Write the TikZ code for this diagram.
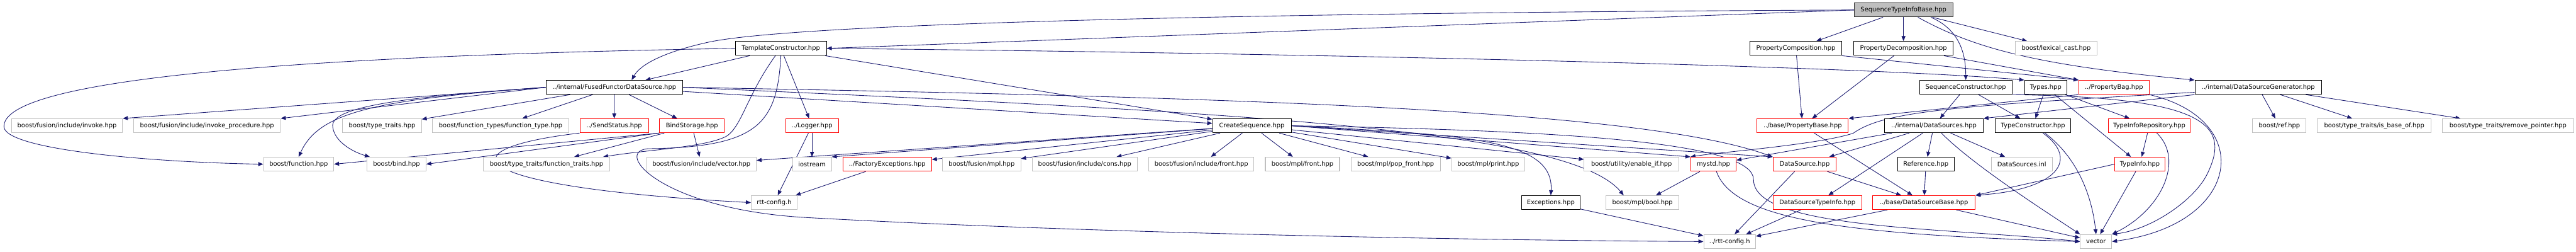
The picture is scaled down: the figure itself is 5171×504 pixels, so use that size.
\documentclass[tikz,border=0pt]{standalone}
\usepackage{fontspec}
\setmainfont{DejaVu Sans}
\usepackage{xcolor}
\usetikzlibrary{arrows.meta,backgrounds}
\definecolor{edgeblue}{HTML}{191970}
\definecolor{lightgrey}{HTML}{BFBFBF}

\begin{document}
\begin{tikzpicture}[
  x=1pt, y=-1pt,
  box/.style={draw, rectangle, fill=white, minimum height=28pt, inner sep=0pt, line width=1.3pt, font=\fontsize{12.5}{15}\selectfont},
  wd/.style={minimum width=#1pt},
  doc/.style={box, draw=black},
  ext/.style={box, draw=lightgrey},
  trunc/.style={box, draw=red},
  main/.style={box, draw=black!80, fill=lightgrey},
  arr/.style={-{Triangle[length=10pt,width=8pt]}, edgeblue, line width=1.1pt}
]
\useasboundingbox (0,0) rectangle (5171,504);

\node[main, wd=198] (stib) at (3821,20) {SequenceTypeInfoBase.hpp};

\node[doc, wd=183] (tc) at (1567.5,97) {TemplateConstructor.hpp};
\node[doc, wd=184] (pc) at (3605,97) {PropertyComposition.hpp};
\node[doc, wd=200] (pd) at (3821,97) {PropertyDecomposition.hpp};
\node[ext, wd=163] (lexc) at (4127.5,97) {boost/lexical\_cast.hpp};

\node[doc, wd=274] (ffds) at (1233,175) {../internal/FusedFunctorDataSource.hpp};
\node[doc, wd=186] (sc) at (3946,175) {SequenceConstructor.hpp};
\node[doc, wd=85] (types) at (4106.5,175) {Types.hpp};
\node[trunc, wd=141] (pbag) at (4243.5,175) {../PropertyBag.hpp};
\node[doc, wd=254] (dsg) at (4533,175) {../internal/DataSourceGenerator.hpp};

\node[ext, wd=223] (invoke) at (134.5,252) {boost/fusion/include/invoke.hpp};
\node[ext, wd=295] (invproc) at (415.5,252) {boost/fusion/include/invoke\_procedure.hpp};
\node[ext, wd=158] (typetr) at (767,252) {boost/type\_traits.hpp};
\node[ext, wd=274] (functype) at (1005,252) {boost/function\_types/function\_type.hpp};
\node[trunc, wd=138] (sendst) at (1233,252) {../SendStatus.hpp};
\node[trunc, wd=130] (bindst) at (1389,252) {BindStorage.hpp};
\node[trunc, wd=106] (logger) at (1630,252) {../Logger.hpp};
\node[doc, wd=158] (cseq) at (2513,252) {CreateSequence.hpp};
\node[trunc, wd=183] (pbase) at (3618.5,252) {../base/PropertyBase.hpp};
\node[doc, wd=198] (dss) at (3882,252) {../internal/DataSources.hpp};
\node[doc, wd=152] (tcons) at (4081,252) {TypeConstructor.hpp};
\node[trunc, wd=165] (tirepo) at (4314.5,252) {TypeInfoRepository.hpp};
\node[ext, wd=107] (bref) at (4575.5,252) {boost/ref.hpp};
\node[ext, wd=228] (isbase) at (4766,252) {boost/type\_traits/is\_base\_of.hpp};
\node[ext, wd=263] (rmptr) at (5034.5,252) {boost/type\_traits/remove\_pointer.hpp};

\node[ext, wd=141] (func) at (599.5,329) {boost/function.hpp};
\node[ext, wd=118] (bind) at (796,329) {boost/bind.hpp};
\node[ext, wd=254] (functr) at (1097,329) {boost/type\_traits/function\_traits.hpp};
\node[ext, wd=220] (fvec) at (1408,329) {boost/fusion/include/vector.hpp};
\node[ext, wd=78] (iostr) at (1630,329) {iostream};
\node[trunc, wd=178] (factexc) at (1781,329) {../FactoryExceptions.hpp};
\node[ext, wd=157] (fmpl) at (1970.5,329) {boost/fusion/mpl.hpp};
\node[ext, wd=211] (fcons) at (2177.5,329) {boost/fusion/include/cons.hpp};
\node[ext, wd=211] (ffront) at (2411.5,329) {boost/fusion/include/front.hpp};
\node[ext, wd=149] (mfront) at (2614.5,329) {boost/mpl/front.hpp};
\node[ext, wd=179] (mpop) at (2801.5,329) {boost/mpl/pop\_front.hpp};
\node[ext, wd=147] (mprint) at (2987.5,329) {boost/mpl/print.hpp};
\node[ext, wd=190] (enif) at (3275,329) {boost/utility/enable\_if.hpp};
\node[trunc, wd=91] (mystd) at (3439.5,329) {mystd.hpp};
\node[trunc, wd=127] (ds) at (3622.5,329) {DataSource.hpp};
\node[doc, wd=114] (refh) at (3866,329) {Reference.hpp};
\node[ext, wd=123] (dsinl) at (4058.5,329) {DataSources.inl};
\node[trunc, wd=101] (tinfo) at (4295.5,329) {TypeInfo.hpp};

\node[ext, wd=92] (rttcfg) at (1554,406) {rtt-config.h};
\node[doc, wd=118] (exc) at (3113,406) {Exceptions.hpp};
\node[ext, wd=146] (mbool) at (3297,406) {boost/mpl/bool.hpp};
\node[trunc, wd=178] (dsti) at (3648,406) {DataSourceTypeInfo.hpp};
\node[trunc, wd=206] (dsbase) at (3862,406) {../base/DataSourceBase.hpp};

\node[ext, wd=104] (rttcfg2) at (3472,484) {../rtt-config.h};
\node[ext, wd=63] (vect) at (4207.5,484) {vector};

\begin{scope}[on background layer]
\draw[arr] (stib.west) -- (tc.east);
\draw[arr] (stib.west) .. controls (2600,25) and (1600,45) .. (1420,85) .. controls (1330,105) and (1285,130) .. ([xshift=35pt]ffds.north);
\draw[arr] (stib) -- (pc);
\draw[arr] (stib) -- (pd);
\draw[arr] ([xshift=55pt]stib.south) .. controls (3935,60) and (3946,110) .. (sc.north);
\draw[arr] (stib) -- (lexc);
\draw[arr] ([xshift=29pt]stib.south) .. controls (3960,95) and (4080,130) .. (dsg.north west);

\draw[arr] (tc) -- (ffds);
\draw[arr] (tc.west) .. controls (700,110) and (0,150) .. (8,255) .. controls (15,300) and (300,325) .. (func.west);
\draw[arr] (tc) -- (cseq);
\draw[arr] (tc.east) .. controls (2500,105) and (3700,130) .. (types.north west);
\draw[arr] (tc) -- (logger);
\draw[arr] ([xshift=-11pt]tc.south) .. controls (1500,190) and (1490,250) .. (1460,272) .. controls (1420,295) and (1300,300) .. ([xshift=-14pt]functr.north east);
\draw[arr] (tc.south) .. controls (1560,250) and (1520,295) .. (1300,298) .. controls (1230,305) and (1330,420) .. (1620,436) .. controls (2200,468) and (3000,482) .. (rttcfg2.west);

\draw[arr] (pc) -- (pbase);
\draw[arr] (pd) -- (pbase);
\draw[arr] (pc.south east) -- (pbag.north west);
\draw[arr] (pd) -- (pbag.north west);

\draw[arr] (ffds.west) -- (invoke.north east);
\draw[arr] (ffds.west) -- (invproc.north east);
\draw[arr] (ffds.west) .. controls (750,200) and (640,225) .. (func.north);
\draw[arr] (ffds.west) .. controls (800,195) and (660,215) .. (668,255) .. controls (672,285) and (710,305) .. ([xshift=6pt]bind.north west);
\draw[arr] (ffds) -- (typetr);
\draw[arr] (ffds) -- (functype);
\draw[arr] (ffds) -- (sendst);
\draw[arr] (ffds) -- (bindst);
\draw[arr] (ffds) -- (cseq);
\draw[arr] (ffds.east) .. controls (2500,195) and (3300,220) .. (ds.north west);
\draw[arr] (ffds.east) .. controls (2500,225) and (3150,260) .. ([xshift=36pt]mbool.north west);

\draw[arr] (sendst.south west) .. controls (880,300) and (930,375) .. (rttcfg.west);
\draw[arr] (bindst.south west) -- (func.east);
\draw[arr] (bindst.south west) -- (bind.east);
\draw[arr] (bindst) -- (functr);
\draw[arr] (bindst) -- (fvec);
\draw[arr] (logger) -- (iostr);
\draw[arr] (logger) -- (rttcfg);
\draw[arr] (factexc) -- (rttcfg);

\draw[arr] (cseq) -- (fvec);
\draw[arr] (cseq) -- (iostr.north east);
\draw[arr] (cseq) -- (factexc);
\draw[arr] (cseq) -- (fmpl);
\draw[arr] (cseq) -- (fcons);
\draw[arr] (cseq) -- (ffront);
\draw[arr] (cseq) -- (mfront);
\draw[arr] (cseq) -- (mpop);
\draw[arr] (cseq) -- (mprint);
\draw[arr] (cseq) -- (enif);
\draw[arr] (cseq.east) .. controls (2950,270) and (3120,280) .. (exc.north);
\draw[arr] (cseq.east) -- (mystd.north west);
\draw[arr] (cseq.east) -- (ds.north west);
\draw[arr] (cseq.east) .. controls (3200,262) and (3520,290) .. (3520,360) .. controls (3520,460) and (3900,455) .. (vect.west);

\draw[arr] (mystd) -- (mbool);
\draw[arr] ([xshift=6pt]mystd.south) .. controls (3480,440) and (3700,470) .. (vect.west);
\draw[arr] ([xshift=-20pt]ds.south) -- ([xshift=10pt]rttcfg2.north);
\draw[arr] (ds) -- (dsbase);
\draw[arr] (dsti) -- (rttcfg2);
\draw[arr] (dsbase) -- (rttcfg2);
\draw[arr] (dsbase) -- (vect);
\draw[arr] (pbase) -- (dsbase);
\draw[arr] (refh) -- (dsbase);
\draw[arr] (exc) -- (rttcfg2);

\draw[arr] (dss) -- (mystd);
\draw[arr] (dss) -- (ds);
\draw[arr] (dss) -- (dsti);
\draw[arr] (dss) -- (refh);
\draw[arr] (dss) -- (dsinl);
\draw[arr] ([xshift=15pt]dss.south) .. controls (3960,330) and (4100,420) .. (vect.north west);

\draw[arr] (sc) -- (dss);
\draw[arr] (sc) -- (tcons);
\draw[arr] (sc.south east) .. controls (4430,195) and (4480,250) .. (4430,350) .. controls (4405,400) and (4320,460) .. (vect.north east);

\draw[arr] (types) -- (tcons);
\draw[arr] (types) -- (tirepo);
\draw[arr] (types) -- (tinfo);
\draw[arr] ([xshift=20pt]tcons.south) .. controls (4175,320) and (4130,380) .. (dsbase.north east);
\draw[arr] ([xshift=24pt]tcons.south) .. controls (4175,320) and (4200,400) .. (vect.north);
\draw[arr] (tirepo) -- (tinfo);
\draw[arr] ([xshift=15pt]tirepo.south) .. controls (4385,320) and (4340,420) .. (vect.north east);
\draw[arr] (tinfo.west) -- (dsbase.north east);
\draw[arr] (tinfo) -- (vect);

\draw[arr] (pbag.south west) -- (pbase.north east);
\draw[arr] (pbag.south east) .. controls (4530,240) and (4500,450) .. (vect.east);

\draw[arr] (dsg.south west) -- (dss.north east);
\draw[arr] ([yshift=-10pt]dsg.west) .. controls (3900,213) and (3780,225) .. (3720,267) .. controls (3650,290) and (3450,305) .. (mystd.north west);
\draw[arr] (dsg) -- (bref);
\draw[arr] (dsg) -- (isbase);
\draw[arr] (dsg) -- (rmptr);
\end{scope}
\end{tikzpicture}
\end{document}
